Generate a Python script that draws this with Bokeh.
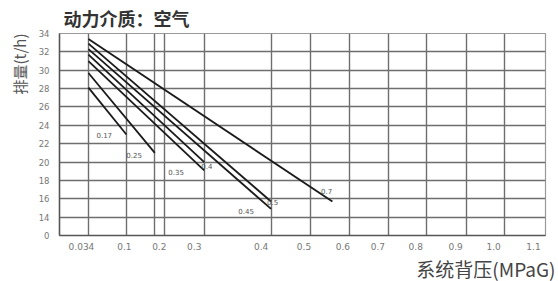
import numpy as np
from bokeh.plotting import figure
from bokeh.models import Range1d, FixedTicker, Title, ColumnDataSource
from bokeh.core.properties import value
from bokeh.embed import file_html
from bokeh.resources import INLINE

# ---- data ----
curve_names = ["0.17", "0.25", "0.35", "0.4", "0.45", "0.5", "0.7"]
start_pressure = [0.034, 0.034, 0.034, 0.034, 0.034, 0.034, 0.034]
start_flow = [28.1, 29.7, 31.0, 31.7, 32.3, 32.9, 33.4]
end_pressure = [0.1, 0.175, 0.3, 0.3, 0.4, 0.4, 0.555]
end_flow = [23.0, 21.0, 19.1, 20.0, 14.9, 15.7, 15.7]

label_pressure = [0.048, 0.1, 0.21, 0.2925, 0.351, 0.394, 0.526]
label_flow = [22.9, 20.8, 18.95, 19.6, 14.7, 15.65, 16.85]

# x axis of the chart is not linear: tick pressures and where they sit on the axis
axis_pressure = [0.034, 0.1, 0.2, 0.3, 0.4, 0.5, 0.6, 0.7, 0.8, 0.9, 1.0, 1.1]
axis_position = [29, 67, 105, 145, 212, 252, 291, 330, 368, 408, 446, 487]
axis_labels = ["0.034", "0.1", "0.2", "0.3", "0.4", "0.5", "0.6", "0.7", "0.8", "0.9", "1.0", "1.1"]
label_position = [22, 65, 100, 135, 202, 245, 284, 319, 357, 397, 435, 475]
extra_grid_pressure = [0.175]

y_ticks = [12, 14, 16, 18, 20, 22, 24, 26, 28, 30, 32, 34]
y_labels = ["0", "14", "16", "18", "20", "22", "24", "26", "28", "30", "32", "34"]


def xmap(p):
    return [float(v) for v in np.interp(p, axis_pressure, axis_position)]


p = figure(width=558, height=281, output_backend="svg", toolbar_location=None,
           x_range=Range1d(0, 487), y_range=Range1d(12, 34),
           min_border_left=58, min_border_right=13, min_border_top=32, min_border_bottom=43)
p.background_fill_color = "white"
p.border_fill_color = "white"
p.outline_line_color = "#999999"
p.outline_line_width = 1.2

# title
p.title = Title(text="动力介质：空气", align="left", offset=4, standoff=5,
                text_font="Noto Sans CJK SC", text_font_size="18px",
                text_color="#333333", text_font_style="bold")

# axes
p.xaxis.ticker = FixedTicker(ticks=label_position)
p.xaxis.major_label_overrides = {pos: lab for pos, lab in zip(label_position, axis_labels)}
p.xaxis.major_tick_line_color = None
p.xaxis.minor_tick_line_color = None
p.xaxis.major_tick_out = 0
p.xaxis.axis_line_color = "#555555"
p.xaxis.axis_line_width = 1.5
p.xaxis.major_label_text_font = "DejaVu Sans"
p.xaxis.major_label_text_font_size = "9px"
p.xaxis.major_label_text_color = "#777777"
p.xaxis.major_label_standoff = 7

p.yaxis.ticker = FixedTicker(ticks=y_ticks)
p.yaxis.major_label_overrides = {t: lab for t, lab in zip(y_ticks, y_labels)}
p.yaxis.major_tick_line_color = None
p.yaxis.minor_tick_line_color = None
p.yaxis.major_tick_out = 0
p.yaxis.axis_line_color = "#555555"
p.yaxis.axis_line_width = 1.5
p.yaxis.major_label_text_font = "DejaVu Sans"
p.yaxis.major_label_text_font_size = "8.5px"
p.yaxis.major_label_text_color = "#777777"
p.yaxis.major_label_standoff = 10

# grids
grid_positions = xmap(axis_pressure) + xmap(extra_grid_pressure)
p.xgrid.ticker = FixedTicker(ticks=grid_positions)
p.xgrid.grid_line_color = "#6e6e6e"
p.xgrid.grid_line_width = 1.4
p.xgrid.grid_line_alpha = 1.0
p.ygrid.ticker = FixedTicker(ticks=y_ticks)
p.ygrid.grid_line_color = "#6e6e6e"
p.ygrid.grid_line_width = 1.4
p.ygrid.grid_line_alpha = 1.0

# side titles
p.add_layout(Title(text="排量(t/h)", align="right", standoff=12, text_font="Noto Sans CJK SC",
                   text_font_size="15px", text_color="#555555", text_font_style="normal"), "left")
p.add_layout(Title(text="系统背压(MPaG)", align="right", offset=-10, standoff=0,
                   text_font="Noto Sans CJK SC",
                   text_font_size="19px", text_color="#444444", text_font_style="normal"), "below")

# curves
src = ColumnDataSource(dict(
    x0=xmap(start_pressure), y0=start_flow,
    x1=xmap(end_pressure), y1=end_flow,
))
p.segment(x0="x0", y0="y0", x1="x1", y1="y1", source=src,
          line_color="#1a1a1a", line_width=1.8)

lab_src = ColumnDataSource(dict(x=xmap(label_pressure), y=label_flow, t=curve_names))
p.text(x="x", y="y", text="t", source=lab_src, text_font=value("DejaVu Sans"),
       text_font_size="7px", text_color="#555555", text_align="left", text_baseline="middle")

open("out.html", "w").write(file_html(p, INLINE))
